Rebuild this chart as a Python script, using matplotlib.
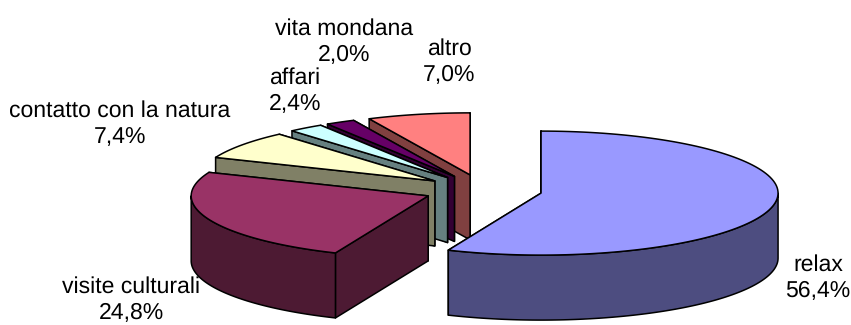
"""Exploded 3D-style pie of holiday motivations, drawn with plain polygons."""

import numpy as np
import matplotlib

matplotlib.use("Agg")
import matplotlib.pyplot as plt
from matplotlib.patches import Polygon

plt.rcParams["font.family"] = ["Liberation Sans", "DejaVu Sans"]
plt.rcParams["text.hinting"] = "no_hinting"
plt.rcParams["text.hinting_factor"] = 1

labels = ["relax", "visite culturali", "contatto con la natura", "affari", "vita mondana", "altro"]
values = [56.4, 24.8, 7.4, 2.4, 2.0, 7.0]
top_colors = ["#9999FF", "#993366", "#FFFFCC", "#CCFFFF", "#660066", "#FF8080"]
side_colors = ["#4D4D80", "#4D1A33", "#808066", "#668080", "#330033", "#804040"]
label_pos = [(818, 278), (131, 300), (120, 124), (295, 91), (344, 42), (449, 62)]

# pie geometry in pixels
CX, CY = 483, 190
RX, RY = 237, 62
DEPTH = 65
EXPLODE = 0.25

fig = plt.figure(figsize=(8.51, 3.25), dpi=100)
ax = fig.add_axes([0, 0, 1, 1])
ax.set_xlim(0, 851)
ax.set_ylim(325, 0)
ax.axis("off")


def rim(x0, y0, a0, a1):
    # clockwise from 12 o'clock, angles in degrees
    a = np.radians(np.linspace(a0, a1, 120))
    return np.column_stack([x0 + RX * np.sin(a), y0 - RY * np.cos(a)])


def add_poly(pts, color, z):
    ax.add_patch(Polygon(pts, closed=True, facecolor=color, edgecolor="black",
                         linewidth=1.1, joinstyle="round", zorder=z))


total = sum(values)
edges = np.concatenate([[0], np.cumsum(values)]) / total * 360
slices = list(zip(edges[:-1], edges[1:], top_colors, side_colors))

# back slices first so the front ones cover them
order = list(range(1, len(slices)))[::-1] + [0]
for z, i in enumerate(order):
    a0, a1, top, side = slices[i]
    mid = np.radians((a0 + a1) / 2)
    x0 = CX + EXPLODE * RX * np.sin(mid)
    y0 = CY - EXPLODE * RY * np.cos(mid)
    drop = np.array([0, DEPTH])
    base = z * 10

    # cut faces
    for a in (a1, a0):
        p = rim(x0, y0, a, a)[0]
        apex = np.array([x0, y0])
        add_poly([apex, p, p + drop, apex + drop], side, base)

    # outer wall, only the part facing the viewer
    lo, hi = max(a0, 90), min(a1, 270)
    if lo < hi:
        arc = rim(x0, y0, lo, hi)
        add_poly(np.vstack([arc, (arc + drop)[::-1]]), side, base + 1)

    # top face
    add_poly(np.vstack([[x0, y0], rim(x0, y0, a0, a1)]), top, base + 2)

for name, v, (lx, ly) in zip(labels, values, label_pos):
    txt = f"{name}\n{v:.1f}%".replace(".", ",")
    ax.text(lx, ly, txt, ha="center", va="center", fontsize=16.6, color="black",
            linespacing=1.25, zorder=100)

fig.savefig("out.png", dpi=100)
